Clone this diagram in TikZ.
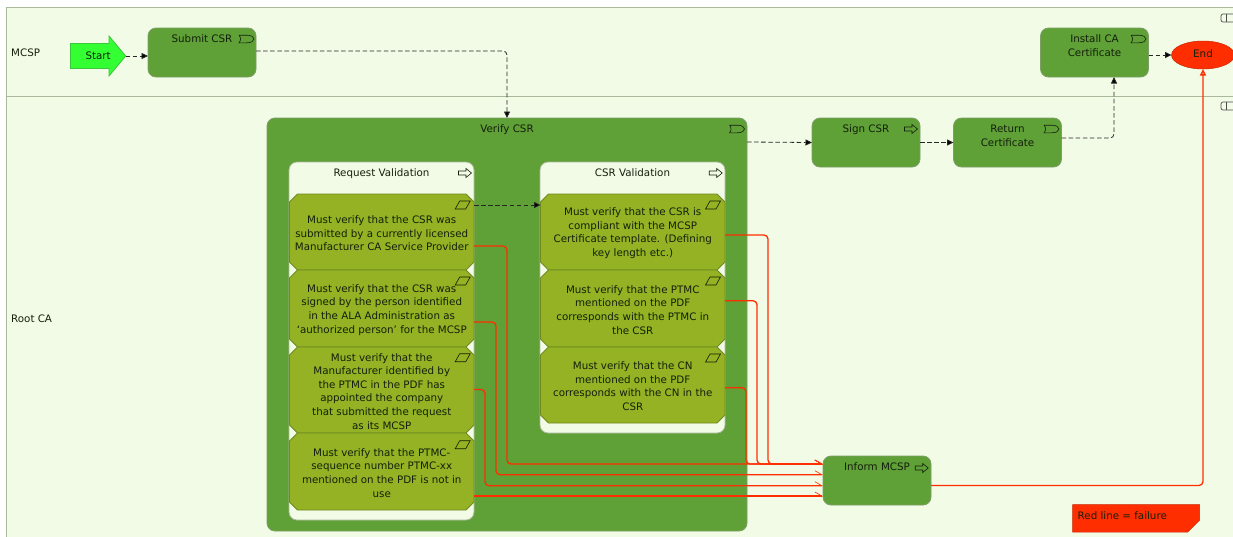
\documentclass[tikz,border=0pt]{standalone}
\usepackage{fontspec}
\setmainfont{DejaVu Sans}
\usetikzlibrary{arrows.meta,shapes.geometric}
\definecolor{laneBg}{HTML}{F2FBE6}
\definecolor{laneLine}{HTML}{AAB89C}
\definecolor{actGreen}{HTML}{5FA037}
\definecolor{actLine}{HTML}{7E9F66}
\definecolor{taskOlive}{HTML}{94B223}
\definecolor{taskLine}{HTML}{6F8A22}
\definecolor{failRed}{HTML}{FF2E00}
\definecolor{startGreen}{HTML}{33FF33}
\definecolor{startLine}{HTML}{3CC63C}
\definecolor{inkDark}{HTML}{14200C}
\tikzset{
  lane/.style={draw=laneLine,line width=.8pt,fill=laneBg,anchor=north west,inner sep=0pt,outer sep=0pt},
  txt/.style={font=\fontsize{10.3}{13.6}\selectfont,text=inkDark,align=center,inner sep=0pt},
  lanelabel/.style={txt,anchor=west},
  act/.style={draw=actLine,line width=.8pt,fill=actGreen,rounded corners=8pt,inner sep=0pt,outer sep=0pt,minimum width=108pt,minimum height=49pt},
  subproc/.style={draw=laneLine,line width=.8pt,fill=laneBg,rounded corners=8pt,inner sep=0pt,outer sep=0pt,minimum width=185pt},
  toplabel/.style={label={[txt,anchor=north,yshift=-6.8pt]north:#1}},
  taskshape/.style={draw=taskLine,line width=.8pt,fill=taskOlive},
  tasknode/.style={txt,minimum width=184.5pt,outer sep=0pt},
  flow/.style={draw=black!85,line width=.8pt,dash pattern=on 4.5pt off 2.6pt,rounded corners=4pt,-{Triangle[length=6.5pt,width=6pt,fill=black]}},
  fail/.style={draw=failRed,line width=1.3pt,rounded corners=4pt,-{Straight Barb[left,length=7pt,width=8pt,line width=.6pt]}},
  failhead/.style={draw=failRed,line width=1.3pt,rounded corners=4pt,-{Triangle[length=6.5pt,width=6pt,fill=failRed!50]}},
  flagicon/.pic={\draw[inkDark,line width=.6pt,fill=none] (-7.5,-3.8) -- (0,-3.8) .. controls (5,-3.8) and (7.5,-2) .. (7.5,0) .. controls (7.5,2) and (5,3.8) .. (0,3.8) -- (-7.5,3.8) .. controls (-5.5,2) and (-5.5,-2) .. (-7.5,-3.8);},
  arrowicon/.pic={\draw[inkDark,line width=.6pt,fill=none,line join=miter] (-6.5,-2) -- (1,-2) -- (1,-4.5) -- (6.5,0) -- (1,4.5) -- (1,2) -- (-6.5,2) -- cycle;},
  paraicon/.pic={\draw[black!85!taskOlive,line width=.6pt,fill=none] (-7.5,4) -- (-3,-4) -- (7.5,-4) -- (3,4) -- cycle;},
  laneicon/.pic={\draw[black!70,line width=.7pt,fill=none,rounded corners=2pt] (0,-4) rectangle (18,4); \draw[black!70,line width=.7pt] (5,-4) -- (5,4);},
}
% name, centre x, centre y, height, text: an octagon with its text node on top
\newcommand{\taskbox}[5]{%
  \draw[taskshape] (#2-92.25,#3-#4/2+8) -- (#2-84.25,#3-#4/2) -- (#2+84.25,#3-#4/2) -- (#2+92.25,#3-#4/2+8)
     -- (#2+92.25,#3+#4/2-8) -- (#2+84.25,#3+#4/2) -- (#2-84.25,#3+#4/2) -- (#2-92.25,#3+#4/2-8) -- cycle;
  \node[tasknode,minimum height=#4 pt] (#1) at (#2,#3+1.3) {#5};}
\begin{document}
\begin{tikzpicture}[x=1pt,y=-1pt]
\useasboundingbox (0,0) rectangle (1233,536);
\clip (0,0) rectangle (1233,536);
\fill[white] (0,0) rectangle (1233,536);
% lanes
\node[lane,minimum width=1240pt,minimum height=89pt] (mcsp) at (6.5,7.5) {};
\node[lane,minimum width=1240pt,minimum height=445pt] (root) at (6.5,96.5) {};
\node[lanelabel] (mcspl) at (11,52.4) {MCSP};
\node[lanelabel] (rootl) at (11,318.4) {Root CA};
\pic at (1221,18) {laneicon};
\pic at (1221,106) {laneicon};
% top lane
\draw[draw=startLine,line width=.8pt,fill=startGreen] (70.5,43.5) -- (109,43.5) -- (109,36) -- (125.7,56) -- (109,76) -- (109,68.5) -- (70.5,68.5) -- cycle;
\node[txt,minimum width=55.2pt,minimum height=40pt,outer sep=0pt] (start) at (98.1,56) {\raisebox{.6pt}{Start}};
\node[act,toplabel={Submit CSR}] (submit) at (202,52.5) {};
\node[act,toplabel={Install CA\\Certificate}] (install) at (1094.5,52.5) {};
\node[ellipse,draw=failRed!80!black,line width=.5pt,fill=failRed,inner sep=0pt,outer sep=0pt,minimum width=63pt,minimum height=28pt,txt] (endn) at (1203,55) {\raisebox{2pt}{End}};
% root lane
\node[act,minimum width=480pt,minimum height=413pt,toplabel={Verify CSR}] (verify) at (507,324.5) {};
\node[subproc,minimum height=358pt,toplabel={Request Validation}] (reqv) at (381.5,341) {};
\node[subproc,minimum height=271pt,toplabel={CSR Validation}] (csrv) at (632.5,297.5) {};
\node[act,toplabel={Sign CSR}] (sign) at (866,142.5) {};
\node[act,toplabel={Return\\Certificate}] (ret) at (1007.5,142.5) {};
\node[act,toplabel={Inform MCSP}] (inform) at (877,480.5) {};
% tasks
\taskbox{ra}{381.75}{232}{76}{Must verify that the CSR was\\submitted by a currently licensed\\Manufacturer CA Service Provider}
\taskbox{rb}{381.75}{308.5}{77}{Must verify that the CSR was\\signed by the person identified\\in the ALA Administration as\\‘authorized person’ for the MCSP}
\taskbox{rc}{381.75}{390}{86}{Must verify that the\\Manufacturer identified by\\the PTMC in the PDF has\\appointed the company\\that submitted the request\\as its MCSP}
\taskbox{rd}{381.75}{471.5}{77}{Must verify that the PTMC-\\sequence number PTMC-xx\\mentioned on the PDF is not in\\use}
\taskbox{ca}{632.75}{232}{76}{Must verify that the CSR is\\compliant with the MCSP\\Certificate template. (Defining\\key length etc.)}
\taskbox{cb}{632.75}{308.5}{77}{Must verify that the PTMC\\mentioned on the PDF\\corresponds with the PTMC in\\the CSR}
\taskbox{cc}{632.75}{385}{76}{Must verify that the CN\\mentioned on the PDF\\corresponds with the CN in the\\CSR}
% icons
\pic at (246.5,39) {flagicon};
\pic at (1138.5,39) {flagicon};
\pic at (1051.5,129) {flagicon};
\pic at (737,129) {flagicon};
\pic at (911,129) {arrowicon};
\pic at (921.7,468) {arrowicon};
\pic at (465,173) {arrowicon};
\pic at (715.7,173) {arrowicon};
\pic at (462.7,205) {paraicon};
\pic at (462.7,281) {paraicon};
\pic at (462.7,357.7) {paraicon};
\pic at (462.7,444.7) {paraicon};
\pic at (713,205) {paraicon};
\pic at (713,281) {paraicon};
\pic at (713,358) {paraicon};
% failure connectors
\draw[fail] ([yshift=-12.7pt]ra.east) -- ++(33,0) |- ([yshift=16.5pt]inform.west);
\draw[fail] ([yshift=-12.2pt]rb.east) -- ++(22,0) |- ([yshift=5.8pt]inform.west);
\draw[fail] ([yshift=1.8pt]rc.east) -- ++(11,0) |- ([yshift=-5.2pt]inform.west);
\draw[fail] ([yshift=-23.2pt]rd.east) -- ([yshift=-15.5pt]inform.west);
\draw[fail] ([yshift=-1.7pt]ca.east) -- ++(43,0) |- ([yshift=16.5pt]inform.west);
\draw[fail] ([yshift=9.1pt]cb.east) -- ++(32,0) |- ([yshift=16.5pt]inform.west);
\draw[fail] ([yshift=-1.4pt]cc.east) -- ++(21,0) |- ([yshift=16.5pt]inform.west);
\draw[failhead] ([yshift=-5pt]inform.east) -| (endn.south);
% flow connectors
\draw[flow] (start.east) -- (submit.west |- start.east);
\draw[flow] ([yshift=1.5pt]submit.east) -| (verify.north);
\draw[flow] ([yshift=28.3pt]ra.east) -- ([yshift=28.3pt]ca.west);
\draw[flow] ([yshift=182.5pt]verify.east) -- (sign.west);
\draw[flow] (sign.east) -- (ret.west);
\draw[flow] ([yshift=4.5pt]ret.east) -| ([xshift=19.5pt]install.south);
\draw[flow] ([yshift=-2.5pt]install.east) -- (endn.west);
% note
\draw[draw=failRed!80!black,line width=.5pt,fill=failRed] (1072.7,504.7) -- (1199.7,504.7) -- (1199.7,520) -- (1187.7,532) -- (1072.7,532) -- cycle;
\node[txt,anchor=west] (note) at (1077.5,516) {Red line = failure};
\end{tikzpicture}
\end{document}
